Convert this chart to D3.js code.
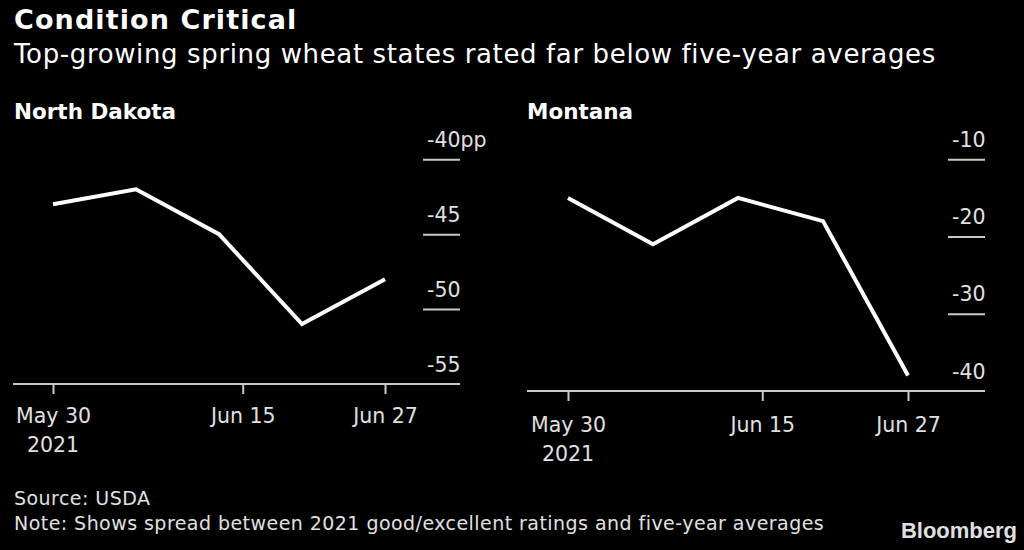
<!DOCTYPE html>
<html><head><meta charset="utf-8">
<script src="https://cdn.jsdelivr.net/npm/d3@7"></script>
<style>html,body{margin:0;padding:0;background:#000;}svg{display:block;}</style>
</head><body>
<svg id="c" width="1024" height="550"></svg>
<script>
const dates = ["2021-05-30","2021-06-06","2021-06-13","2021-06-20","2021-06-27"];
const northDakota = [-43, -42, -45, -51, -48];
const montana = [-15, -21, -15, -18, -38];
const ndTicks = [-55, -50, -45, -40];
const mtTicks = [-40, -30, -20, -10];
const xTickDates = ["2021-05-30","2021-06-15","2021-06-27"];
const xTickLabels = ["May 30","Jun 15","Jun 27"];

const parse = d3.timeParse("%Y-%m-%d");
const svg = d3.select("#c");
const FONT = "'DejaVu Sans',sans-serif";
svg.append("rect").attr("width",1024).attr("height",550).attr("fill","#000");

svg.append("text").attr("x",14).attr("y",29).attr("fill","#fff")
  .attr("font-family",FONT).attr("font-weight","bold").attr("font-size",27).attr("letter-spacing",1.1)
  .text("Condition Critical");
svg.append("text").attr("x",14).attr("y",63).attr("fill","#fff")
  .attr("font-family",FONT).attr("font-size",26).attr("letter-spacing",0.63)
  .text("Top-growing spring wheat states rated far below five-year averages");

function panel(cfg){
  const g = svg.append("g");
  const x = d3.scaleTime().domain([parse("2021-05-30"), parse("2021-06-27")]).range(cfg.xr);
  const y = d3.scaleLinear().domain(cfg.yd).range(cfg.yr);
  g.append("text").attr("x",cfg.titleX).attr("y",119).attr("fill","#fff")
    .attr("font-family",FONT).attr("font-weight","bold").attr("font-size",21.5)
    .text(cfg.title);
  const yAxis = d3.axisRight(y).tickValues(cfg.ticks).tickSize(0)
    .tickFormat((d,i)=> i===cfg.ticks.length-1 && cfg.unit ? d+cfg.unit : d);
  const ya = g.append("g").attr("transform",`translate(${cfg.gx0},0)`).call(yAxis);
  ya.select(".domain").remove();
  ya.selectAll(".tick line").attr("x1",0).attr("x2",cfg.gx1-cfg.gx0)
    .attr("stroke",d=> d===cfg.yd[0] ? "none" : "#c8c8c8").attr("stroke-width",2);
  ya.selectAll(".tick text").attr("x",4).attr("dy",-13).attr("text-anchor","start")
    .attr("fill","#e0e0e0").attr("font-family",FONT).attr("font-size",20.5);
  const xAxis = d3.axisBottom(x).tickValues(xTickDates.map(parse)).tickSize(10).tickSizeOuter(0)
    .tickFormat((d,i)=>xTickLabels[i]);
  const xa = g.append("g").attr("transform",`translate(0,${cfg.yr[0]})`).call(xAxis);
  xa.select(".domain").remove();
  xa.append("line").attr("x1",cfg.ax0).attr("x2",cfg.gx1).attr("y1",0).attr("y2",0)
    .attr("stroke","#c8c8c8").attr("stroke-width",2);
  xa.selectAll(".tick line").attr("stroke","#c8c8c8").attr("stroke-width",2);
  xa.selectAll(".tick text").attr("fill","#e0e0e0").attr("font-family",FONT).attr("font-size",20.5)
    .attr("y",0).attr("dy",null).attr("transform",`translate(0,${cfg.lab1})`);
  xa.append("text").attr("x",x(parse("2021-05-30"))).attr("y",cfg.lab1+29).attr("text-anchor","middle")
    .attr("fill","#e0e0e0").attr("font-family",FONT).attr("font-size",20.5).text("2021");
  const line = d3.line().x((d,i)=>x(parse(dates[i]))).y(d=>y(d));
  g.append("path").datum(cfg.values).attr("d",line).attr("fill","none")
    .attr("stroke","#fff").attr("stroke-width",4).attr("stroke-linejoin","miter");
}

panel({title:"North Dakota", titleX:14, xr:[53,385], yd:[-55,-40], yr:[384,159.3],
  ticks:ndTicks, unit:"pp", gx0:423, gx1:460, ax0:13, lab1:39, values:northDakota});
panel({title:"Montana", titleX:527, xr:[568,908], yd:[-40,-10], yr:[391,159.3],
  ticks:mtTicks, unit:"", gx0:948, gx1:985, ax0:527, lab1:41, values:montana});

svg.append("text").attr("x",14).attr("y",505).attr("fill","#e0e0e0")
  .attr("font-family",FONT).attr("font-size",19).attr("letter-spacing",0.45).text("Source: USDA");
svg.append("text").attr("x",14).attr("y",530).attr("fill","#e0e0e0")
  .attr("font-family",FONT).attr("font-size",19).attr("letter-spacing",0.45)
  .text("Note: Shows spread between 2021 good/excellent ratings and five-year averages");
svg.append("text").attr("x",1017).attr("y",538).attr("text-anchor","end").attr("fill","#e0e0e0")
  .attr("font-family","'Liberation Sans Narrow','Liberation Sans',sans-serif").attr("font-weight","bold").attr("font-size",22)
  .text("Bloomberg");
</script>
</body></html>
